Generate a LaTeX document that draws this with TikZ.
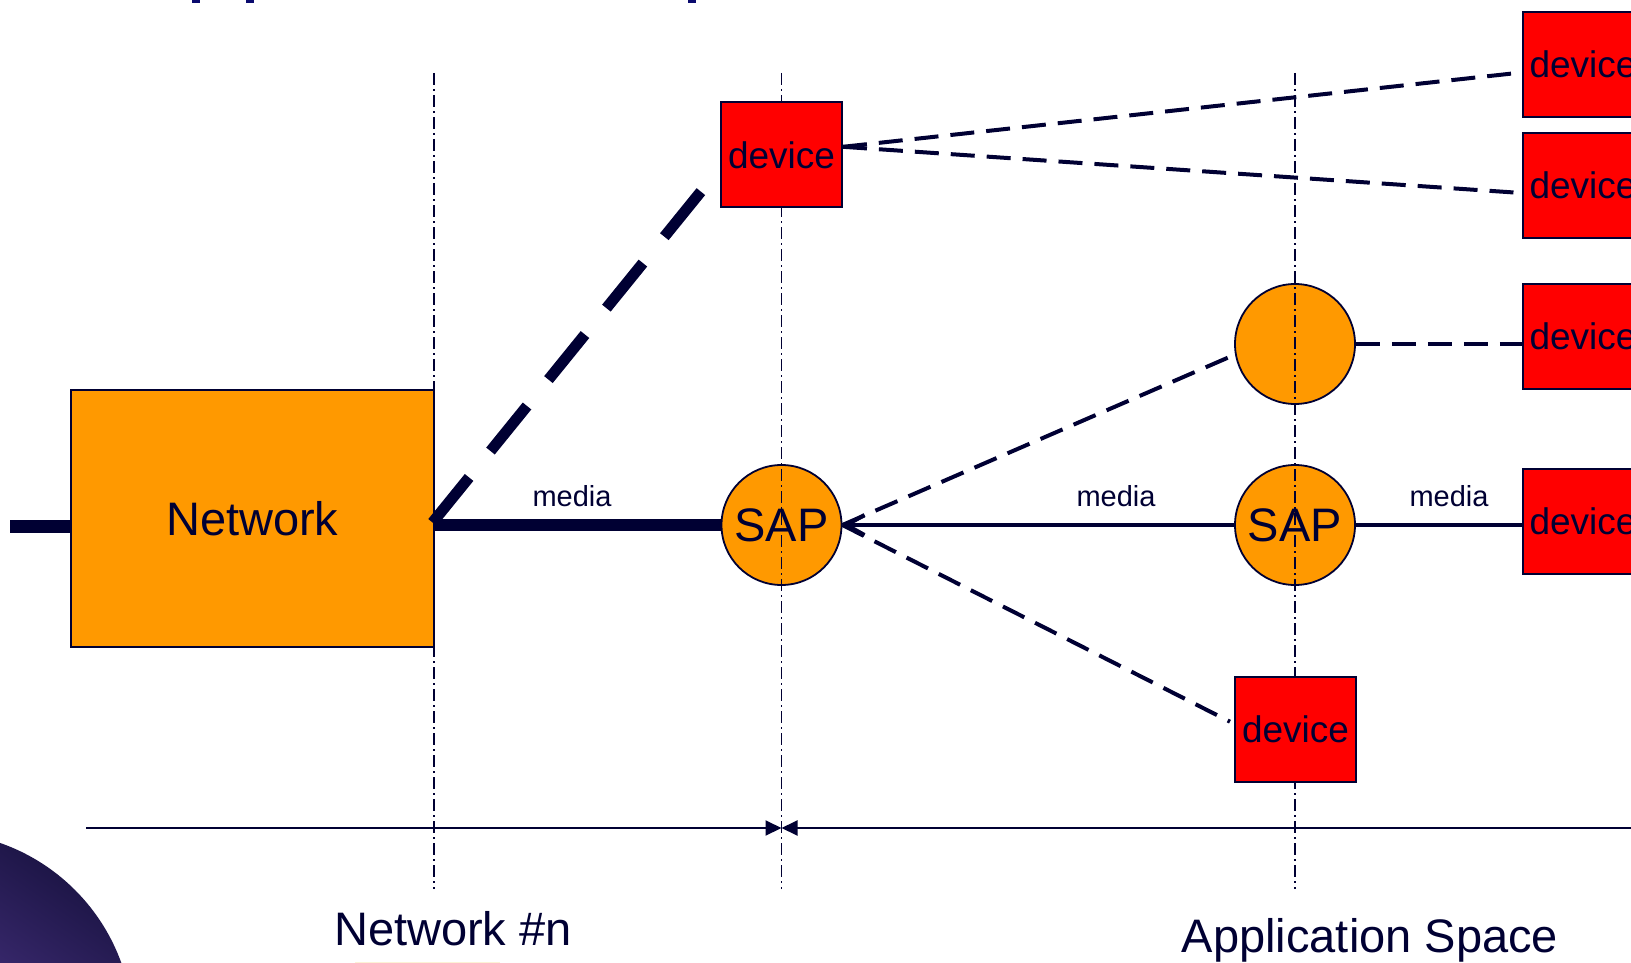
\documentclass[tikz,border=0pt]{standalone}
\usepackage{fontspec}
\setmainfont{Liberation Sans}
\usetikzlibrary{arrows.meta,calc}
\definecolor{ink}{RGB}{0,0,51}
\definecolor{netorange}{RGB}{255,153,0}
\definecolor{devred}{RGB}{255,0,0}
\definecolor{titleblue}{RGB}{10,10,110}
\definecolor{blobdark}{RGB}{30,22,72}
\definecolor{bloblight}{RGB}{120,84,196}
\definecolor{glow}{RGB}{252,242,214}
\pgfdeclarelayer{back}
\pgfdeclarelayer{front}
\pgfsetlayers{back,main,front}
\begin{document}
\begin{tikzpicture}[x=1pt,y=-1pt,
  devbox/.style={draw=ink,line width=2pt,fill=devred,minimum width=121pt,minimum height=105pt,inner sep=0pt,text=ink,font=\fontsize{37}{44}\selectfont},
  sapnode/.style={circle,draw=ink,line width=1.8pt,fill=netorange,minimum size=120pt,inner sep=0pt,text=ink,font=\fontsize{47}{56}\selectfont},
  guide/.style={draw=ink,line width=1.6pt,dash pattern=on 12pt off 4pt on 2pt off 4pt},
  heavydash/.style={draw=ink,line width=11pt,dash pattern=on 58pt off 34pt},
  linkdash/.style={draw=ink,line width=4pt,dash pattern=on 24pt off 12pt},
  medialabel/.style={text=ink,anchor=base,font=\fontsize{29}{35}\selectfont},
  caption/.style={text=ink,anchor=base,font=\fontsize{47}{56}\selectfont}
]
\useasboundingbox (0,0) rectangle (1631,963);
\clip (0,0) rectangle (1631,963);

% backdrop pieces
\begin{pgfonlayer}{back}
  \shade[top color=blobdark,bottom color=bloblight,shading angle=-35]
    (-65,1030) circle [radius=198pt];
  \fill[glow] (355,961.5) rectangle (500,963);
  \fill[titleblue] (192,0) rectangle (200,3);
  \fill[titleblue] (246,0) rectangle (254,3);
  \fill[titleblue] (688,0) rectangle (696,3);
\end{pgfonlayer}

% network block and service access points
\node[draw=ink,line width=1.5pt,fill=netorange,minimum width=363pt,minimum height=257pt,inner sep=0pt,
      text=ink,font=\fontsize{47}{56}\selectfont] (net) at (252.3,518.5) {Network};
\node[sapnode] (sap1) at (781.5,525) {SAP};
\node[sapnode] (sap2) at (1295,525) {SAP};
\node[sapnode] (c3) at (1295,344) {};

% devices sit above the guide lines
\begin{pgfonlayer}{front}
  \node[devbox] (dtop) at (781.5,154.8) {device};
  \node[devbox] (dbot) at (1295.5,729.7) {device};
  \node[devbox] (d1) at (1583,64.5) {device};
  \node[devbox] (d2) at (1583,185.5) {device};
  \node[devbox] (d3) at (1583,336.5) {device};
  \node[devbox] (d4) at (1583,521) {device};
\end{pgfonlayer}

% vertical guides
\coordinate (g1t) at (433.8,73);  \coordinate (g1b) at (433.8,889);
\coordinate (g2t) at (781.5,73);  \coordinate (g2b) at (781.5,889);
\coordinate (g3t) at (1295,73);   \coordinate (g3b) at (1295,889);
\draw[guide] (g1t) -- (g1b);
\draw[guide] (g2t) -- (g2b);
\draw[guide] (g3t) -- (g3b);

% extent line with the boundary marker
\coordinate (dimL) at (86,828);
\coordinate (dimR) at (1631,828);
\coordinate (dimM) at (781.5,828);
\draw[ink,line width=2pt,-{Triangle[length=16pt,width=15pt]}] (dimL) -- (dimM);
\draw[ink,line width=2pt,-{Triangle[length=16pt,width=15pt]}] (dimR) -- (dimM);

% wired media
\coordinate (stub) at (10,526);
\draw[ink,line width=13pt] (stub) -- (net.west |- stub);
\draw[ink,line width=12pt] (net.east |- sap1) -- (sap1.west);
\draw[ink,line width=3.5pt,-{Straight Barb[length=18pt,width=20pt,line width=4pt]}] (sap2.west) -- (sap1.east);
\draw[ink,line width=3.5pt] (sap2.east) -- (d4.west |- sap2.east);

% wireless links
\coordinate (hd) at (703,189);
\draw[heavydash] ($(net.east)+(-2,4)$) -- (hd);
\draw[linkdash] ($(dtop.east)+(0,-8)$) -- ($(d1.west)+(0,8)$);
\draw[linkdash] ($(dtop.east)+(0,-8)$) -- ($(d2.west)+(0,7.5)$);
\draw[linkdash] (c3.east) -- (d3.west |- c3.east);
\draw[linkdash] (sap1.east) -- (c3.190);
\draw[linkdash] (sap1.east) -- ($(dbot.west)+(-4,-8)$);

% labels
\node[medialabel] (m1) at (572,506) {media};
\node[medialabel] (m2) at (1116,506) {media};
\node[medialabel] (m3) at (1449,506) {media};
\node[caption] (cap1) at (453,945) {Network \#n};
\node[caption] (cap2) at (1370,952) {Application Space};
\end{tikzpicture}
\end{document}
